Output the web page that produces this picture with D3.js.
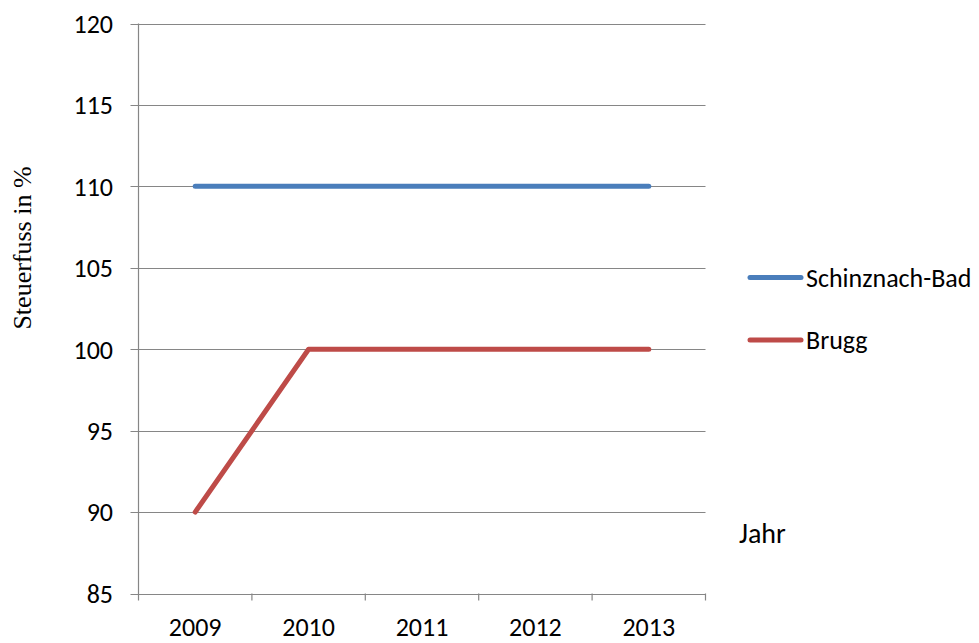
<!DOCTYPE html>
<html>
<head>
<meta charset="utf-8">
<script src="https://cdn.jsdelivr.net/npm/d3@7"></script>
<style>
  body { margin: 0; background: #fff; }
  text { font-family: Carlito, Lato, "Open Sans", sans-serif; fill: #000; }
</style>
</head>
<body>
<div id="chart"></div>
<script>
// chart data
var years = ['2009', '2010', '2011', '2012', '2013'];
var schinznach = [110, 110, 110, 110, 110];
var brugg = [90, 100, 100, 100, 100];
var seriesNames = ['Schinznach-Bad', 'Brugg'];
var seriesColors = ['#4a7ebb', '#be4b48'];
var yTicks = [85, 90, 95, 100, 105, 110, 115, 120];

(function(){
var W = 979, H = 643;
var pLeft = 138.5, pRight = 705.5, pTop = 23.5, pBottom = 593.5;
var gridColor = '#868686';
var fs = '26px';

var svg = d3.select('#chart').append('svg').attr('width', W).attr('height', H);

var x = d3.scaleBand().domain(years).range([pLeft, pRight]);
var y = d3.scaleLinear().domain([85, 120]).range([pBottom, pTop]);

// horizontal gridlines with outward ticks
svg.append('g').selectAll('line')
  .data(yTicks).enter().append('line')
  .attr('x1', pLeft - 8).attr('x2', pRight)
  .attr('y1', function(d){ return Math.round(y(d)) + 0.5; })
  .attr('y2', function(d){ return Math.round(y(d)) + 0.5; })
  .attr('stroke', gridColor).attr('stroke-width', 1.2);

// y axis labels
svg.append('g').selectAll('text')
  .data(yTicks).enter().append('text')
  .attr('x', 113)
  .attr('y', function(d){ return y(d); })
  .attr('dy', '0.36em')
  .attr('text-anchor', 'end')
  .style('font-size', fs)
  .text(function(d){ return d; });

// vertical axis line
svg.append('line')
  .attr('x1', pLeft).attr('x2', pLeft).attr('y1', pTop).attr('y2', pBottom + 7)
  .attr('stroke', gridColor).attr('stroke-width', 1.2);

// x tick marks at band edges
var edges = years.map(function(d){ return x(d); }).concat([pRight]);
svg.append('g').selectAll('line')
  .data(edges.slice(1)).enter().append('line')
  .attr('x1', function(d){ return d; }).attr('x2', function(d){ return d; })
  .attr('y1', pBottom).attr('y2', pBottom + 7)
  .attr('stroke', gridColor).attr('stroke-width', 1.2);

// x labels
svg.append('g').selectAll('text')
  .data(years).enter().append('text')
  .attr('x', function(d){ return x(d) + x.bandwidth() / 2; })
  .attr('y', 636)
  .attr('text-anchor', 'middle')
  .style('font-size', fs)
  .text(function(d){ return d; });

// series lines
var line = d3.line()
  .x(function(d, i){ return x(years[i]) + x.bandwidth() / 2; })
  .y(function(d){ return y(d); });

[schinznach, brugg].forEach(function(vals, k){
  svg.append('path')
    .datum(vals)
    .attr('d', line)
    .attr('fill', 'none')
    .attr('stroke', seriesColors[k])
    .attr('stroke-width', 5)
    .attr('stroke-linecap', 'round')
    .attr('stroke-linejoin', 'round');
});

// legend
var legY = [277.5, 340];
seriesNames.forEach(function(name, k){
  svg.append('line')
    .attr('x1', 750).attr('x2', 801)
    .attr('y1', legY[k]).attr('y2', legY[k])
    .attr('stroke', seriesColors[k]).attr('stroke-width', 5)
    .attr('stroke-linecap', 'round');
  svg.append('text')
    .attr('x', 806).attr('y', legY[k])
    .attr('dy', '0.36em')
    .style('font-size', fs)
    .text(name);
});

// axis titles
svg.append('text')
  .attr('x', 739).attr('y', 533)
  .attr('dy', '0.36em')
  .style('font-size', '28px')
  .text('Jahr');

svg.append('text')
  .attr('transform', 'translate(31,248) rotate(-90)')
  .attr('text-anchor', 'middle')
  .style('font-family', '"Liberation Serif", "Times New Roman", serif')
  .style('font-size', '26px')
  .text('Steuerfuss in %');
})();
</script>
</body>
</html>
